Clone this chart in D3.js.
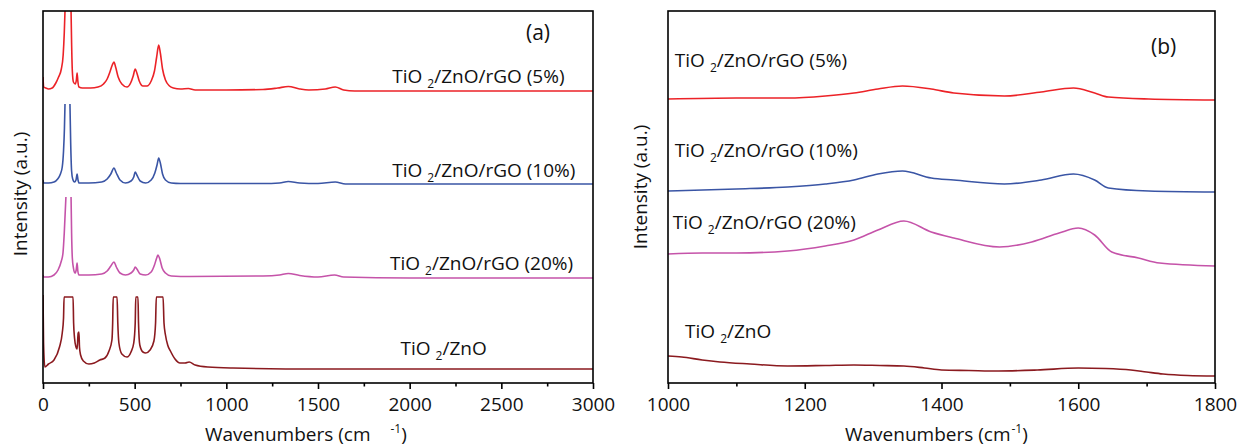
<!DOCTYPE html>
<html>

<head>
  <meta charset='utf-8'>
  <script type="text/javascript" src="https://cdn.jsdelivr.net/npm/d3@7"></script>
  <style>
    body { margin: 0; background: #fff; }
    text { font-family: "Open Sans", sans-serif; fill: #111; }
  </style>
</head>

<body>
</body>
<script>
  // sample names and colours, same order as the series below
  let samples = ['TiO2/ZnO/rGO (5%)', 'TiO2/ZnO/rGO (10%)', 'TiO2/ZnO/rGO (20%)', 'TiO2/ZnO']
  let colors = ['#ec2227', '#3a55a5', '#c553a9', '#8b1a1f']

  // (a) 0-3000 cm-1, [wavenumber, intensity a.u.], null = peak cut off at top
  let rGO5_a = [[0, 306], [4, 296], [15, 295], [30, 294], [50, 295], [70, 300], [85, 306], [100, 314], [110, 328], [116, 350], [120, 372], [136, null],
    [153, 372], [156, 340], [160, 312], [166, 301], [176, 299], [182, 303], [186, 310], [190, 302], [196, 296], [215, 295], [260, 295], [300, 296],
    [330, 299], [350, 304], [365, 311], [378, 318], [387, 321], [396, 316], [410, 306], [430, 299], [458, 296], [478, 300], [492, 307], [503, 314],
    [512, 310], [525, 302], [545, 297], [567, 297], [590, 302], [608, 312], [620, 326], [631, 338], [640, 330], [652, 314], [668, 303], [690, 297],
    [711, 295], [750, 294], [793, 294.5], [830, 293], [1000, 293], [1200, 293.5], [1280, 295], [1338, 296.5], [1400, 294], [1450, 293], [1540, 294],
    [1594, 296], [1640, 293], [1700, 292], [2000, 292], [2500, 292], [3000, 292]]
  let rGO10_a = [[0, 203], [4, 200], [30, 200], [60, 201], [80, 204], [95, 209], [105, 216], [112, 232], [117, 255], [120, 279], [134, null],
    [147, 279], [151, 240], [156, 212], [162, 204], [172, 201], [180, 203], [186, 209], [191, 203], [197, 200], [250, 200], [320, 201], [350, 204],
    [370, 209], [387, 215], [400, 210], [420, 203], [450, 200], [480, 202], [495, 206], [503, 211], [512, 208], [530, 202], [560, 200], [590, 203],
    [610, 210], [622, 218], [631, 225], [640, 220], [652, 209], [668, 203], [700, 200], [750, 199.5], [1200, 199.5], [1290, 200], [1338, 201.5],
    [1400, 200], [1500, 199.5], [1594, 201], [1650, 199], [3000, 199]]
  let rGO20_a = [[0, 108], [4, 106], [30, 106], [60, 108], [82, 113], [100, 122], [109, 130], [116, 150], [125, 186], [139, null],
    [153, 186], [156, 150], [160, 125], [166, 115], [175, 110], [181, 113], [186, 120], [190, 112], [196, 108], [250, 108], [320, 109], [350, 112],
    [370, 117], [387, 121], [400, 116], [420, 110], [450, 108], [480, 110], [495, 113], [503, 116], [512, 114], [530, 109], [560, 108], [590, 111],
    [608, 118], [620, 125], [627, 128], [637, 124], [650, 115], [668, 110], [700, 107], [800, 106.5], [1200, 107], [1290, 108], [1338, 109.5],
    [1400, 107.5], [1500, 106], [1590, 108], [1640, 106], [2000, 105], [3000, 105]]
  let tiZn_a = [[0, 88], [3, 40], [10, 16], [30, 19], [60, 23], [90, 36], [105, 50], [112, 65], [115, 86], [164, 86], [167, 60], [172, 45], [180, 36],
    [186, 34], [192, 50], [196, 51], [199, 36], [205, 28], [220, 22], [250, 19], [280, 20], [310, 23], [338, 25], [360, 32], [376, 43], [380, 60],
    [383, 86], [404, 86], [408, 60], [414, 40], [430, 29], [458, 26], [480, 31], [495, 40], [503, 60], [506, 86], [518, 86], [521, 60], [528, 38],
    [545, 31], [560, 30], [584, 33], [605, 42], [614, 60], [618, 86], [655, 86], [660, 60], [668, 48], [680, 38], [695, 32], [720, 24], [747, 20],
    [775, 20], [797, 21], [830, 18], [900, 16], [1036, 15], [1500, 14], [2000, 14], [3000, 14]]

  // (b) 1000-1800 cm-1, D and G bands
  let rGO5_b = [[1000, 284], [1100, 285], [1175, 285], [1230, 287], [1272, 290], [1307, 294], [1343, 297], [1385, 294], [1418, 290], [1492, 287],
    [1546, 291], [1593, 295], [1624, 290], [1644, 286], [1703, 284], [1800, 283]]
  let rGO10_b = [[1000, 192], [1100, 194], [1175, 196], [1230, 199], [1272, 203], [1307, 209], [1343, 212], [1385, 205], [1418, 203], [1492, 199],
    [1546, 203], [1593, 209], [1624, 203], [1644, 195], [1703, 192], [1800, 191]]
  let rGO20_b = [[1000, 129], [1050, 130], [1100, 130], [1175, 132], [1230, 137], [1272, 143], [1307, 153], [1345, 162], [1385, 151], [1418, 145],
    [1485, 136], [1532, 141], [1572, 150], [1600, 155], [1624, 148], [1649, 131], [1688, 125], [1719, 120], [1800, 117]]
  let tiZn_b = [[1000, 27], [1020, 26], [1050, 23], [1076, 21], [1120, 19], [1175, 17], [1230, 17.5], [1272, 18], [1310, 17.5], [1345, 17],
    [1375, 15], [1400, 13], [1440, 12.5], [1483, 12], [1540, 13], [1600, 15], [1640, 14.5], [1677, 13], [1700, 11], [1724, 9], [1760, 7.5],
    [1800, 7]]

  let ticksA = [0, 500, 1000, 1500, 2000, 2500, 3000]
  let minorA = [250, 750, 1250, 1750, 2250, 2750]
  let ticksB = [1000, 1200, 1400, 1600, 1800]
  let minorB = [1100, 1300, 1500, 1700]

  let w = 1247
  let h = 448

  let svg = d3.select('body')
    .append('svg')
    .attr('width', w)
    .attr('height', h)

  function addName(g, name, x, y) {
    let i = name.indexOf('2')
    let t = g.append('text')
      .attr('x', x)
      .attr('y', y)
      .attr('font-size', 19)
    t.append('tspan').text(name.slice(0, i))
    t.append('tspan').attr('dx', 5).attr('dy', 5).attr('font-size', 12).text('2')
    t.append('tspan').attr('dy', -5).text(name.slice(i + 1))
  }

  function drawPanel(p) {
    let xScale = d3.scaleLinear().domain(p.domain).range([p.left, p.right])
    let yScale = d3.scaleLinear().domain([0, 372]).range([383, 11])
    let g = svg.append('g')

    g.append('clipPath').attr('id', 'clip' + p.id)
      .append('rect')
      .attr('x', p.left).attr('y', 11)
      .attr('width', p.right - p.left).attr('height', 372)

    let line = d3.line()
      .defined(d => d[1] !== null)
      .x(d => xScale(d[0]))
      .y(d => yScale(d[1]))
      .curve(d3.curveMonotoneX)

    g.append('g')
      .attr('clip-path', 'url(#clip' + p.id + ')')
      .selectAll('path')
      .data(p.series)
      .enter()
      .append('path')
      .attr('d', d => line(d))
      .attr('fill', 'none')
      .attr('stroke', (d, i) => colors[i])
      .attr('stroke-width', 1.6)

    // frame
    g.append('rect')
      .attr('x', p.left).attr('y', 11)
      .attr('width', p.right - p.left).attr('height', 372)
      .attr('fill', 'none')
      .attr('stroke', '#000')
      .attr('stroke-width', 1.6)

    let xAxis = d3.axisBottom(xScale).tickValues(p.ticks).tickFormat(d3.format('d'))
      .tickSize(6).tickPadding(9).tickSizeOuter(0)
    let ax = g.append('g')
      .attr('transform', 'translate(0,383)')
      .call(xAxis)
    ax.select('.domain').remove()
    ax.selectAll('line').attr('stroke-width', 1.6)
    ax.selectAll('text').attr('font-size', 19).attr('font-family', '"Open Sans", sans-serif').attr('fill', '#111')

    let mx = g.append('g')
      .attr('transform', 'translate(0,383)')
      .call(d3.axisBottom(xScale).tickValues(p.minor).tickSize(3.5).tickFormat(''))
    mx.select('.domain').remove()
    mx.selectAll('line').attr('stroke-width', 1.6)

    samples.forEach((s, i) => {
      addName(g, s, xScale(p.labels[i][0]), yScale(p.labels[i][1]))
    })

    g.append('text')
      .attr('x', p.tagPos[0]).attr('y', p.tagPos[1])
      .attr('font-size', 21)
      .text(p.tag)

    // axis titles
    let xt = g.append('text')
      .attr('x', p.xTitle[0]).attr('y', 441)
      .attr('font-size', 19)
    xt.append('tspan').text('Wavenumbers (cm')
    xt.append('tspan').attr('dx', p.xTitle[1]).attr('dy', -8).attr('font-size', 12).text('-1')
    xt.append('tspan').attr('dy', 8).text(')')

    g.append('text')
      .attr('transform', 'translate(' + p.yTitle[0] + ',' + p.yTitle[1] + ') rotate(-90)')
      .attr('text-anchor', 'middle')
      .attr('font-size', 19)
      .text('Intensity (a.u.)')
  }

  drawPanel({
    id: 'a', tag: '(a)', left: 43, right: 593, domain: [0, 3000],
    series: [rGO5_a, rGO10_a, rGO20_a, tiZn_a],
    ticks: ticksA, minor: minorA,
    labels: [[1905, 300], [1905, 206], [1893, 113], [1950, 28]],
    tagPos: [526, 40], xTitle: [205, 20], yTitle: [27, 194]
  })

  drawPanel({
    id: 'b', tag: '(b)', left: 668, right: 1215, domain: [1000, 1800],
    series: [rGO5_b, rGO10_b, rGO20_b, tiZn_b],
    ticks: ticksB, minor: minorB,
    labels: [[1010, 316], [1010, 226], [1007, 154], [1025, 45]],
    tagPos: [1151, 54], xTitle: [845, 1], yTitle: [647, 187]
  })
</script>

</html>
